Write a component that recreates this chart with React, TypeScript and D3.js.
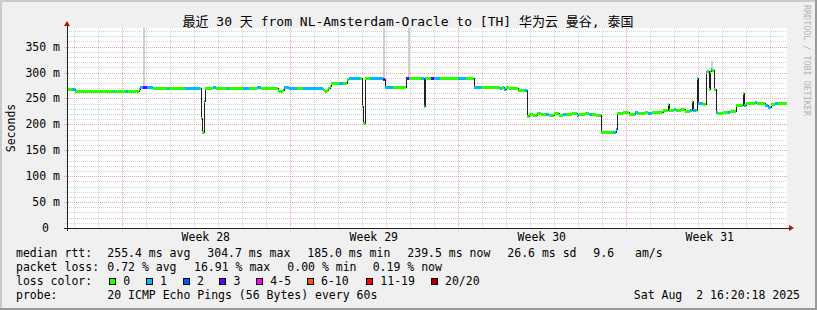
import React from 'react';
import * as d3 from 'd3';

// ---------- data ----------
// median RTT series as step segments: start hour (from window start), median ms, lost pings (of 20)
const segStartHour = [
  0, 5, 8, 47, 48, 59, 61, 72, 73, 76, 80, 86, 100, 102, 118, 133, 134, 135, 137, 138,
  146, 149, 160, 162, 176, 182, 190, 194, 211, 212, 216, 217, 222, 230, 236, 248, 256, 257, 258, 260,
  261, 263, 264, 272, 276, 280, 282, 293, 295, 296, 298, 303, 316, 318, 326, 339, 342, 354, 357, 358,
  359, 364, 367, 373, 391, 399, 407, 415, 433, 435, 437, 439, 442, 451, 458, 460, 462, 466, 470, 474,
  479, 482, 487, 492, 496, 499, 505, 510, 512, 518, 522, 525, 529, 534, 546, 549, 550, 556, 562, 568,
  571, 578, 581, 585, 592, 596, 601, 602, 607, 609, 614, 618, 623, 625, 626, 629, 630, 631, 636, 639,
  640, 642, 643, 644, 645, 647, 649, 651, 656, 661, 663, 669, 676, 677, 679, 688, 690, 698, 701, 704,
  708, 711, 716,
];
const segMedianMs = [
  267, 267, 264, 264, 264, 264, 264, 267, 271, 272, 271, 270, 270, 270, 270, 270, 212, 185, 244, 270,
  271, 270, 270, 270, 270, 270, 271, 270, 266, 263, 266, 271, 270, 270, 270, 270, 268, 265, 263, 266,
  270, 274, 278, 278, 278, 287, 288, 288, 235, 201, 288, 288, 286, 272, 272, 289, 289, 289, 234, 289,
  289, 289, 289, 288, 288, 288, 272, 271, 269, 272, 267, 271, 270, 265, 265, 215, 220, 218, 221, 219,
  220, 218, 221, 217, 220, 219, 221, 218, 219, 221, 219, 220, 218, 185, 185, 190, 221, 222, 220, 222,
  221, 223, 221, 222, 222, 227, 238, 227, 229, 226, 228, 225, 226, 244, 226, 226, 289, 240, 238, 300,
  302, 268, 303, 305, 304, 267, 222, 221, 223, 222, 224, 236, 259, 236, 241, 242, 241, 236, 233, 238,
  240, 241, 239.5,
];
const segLoss = [
  0, 1, 0, 1, 0, 1, 0, 0, 1, 3, 1, 0, 1, 0, 1, 0, 0, 0, 1, 0,
  1, 0, 1, 0, 1, 0, 1, 0, 0, 0, 0, 1, 1, 0, 1, 1, 0, 0, 0, 0,
  0, 0, 0, 1, 0, 0, 1, 0, 0, 0, 0, 1, 3, 1, 0, 3, 0, 1, 1, 1,
  0, 3, 1, 0, 1, 0, 1, 0, 1, 0, 1, 0, 0, 0, 1, 0, 0, 0, 0, 0,
  1, 0, 0, 0, 1, 0, 0, 1, 0, 0, 1, 0, 0, 0, 1, 1, 0, 0, 0, 1,
  0, 0, 1, 0, 0, 0, 0, 0, 1, 0, 0, 0, 1, 0, 1, 0, 1, 1, 0, 1,
  0, 0, 0, 1, 0, 0, 1, 0, 0, 1, 0, 0, 0, 1, 0, 1, 0, 1, 1, 0,
  1, 0, 0,
];
// tall smoke (ping spread) columns
const smokeHour = [76, 316, 341, 644];
const smokeTopMs = [400, 400, 400, 322];

const windowHours = 720;
const firstMidnightHour = 6.8;
const firstWeekStartHour = 54.8;
const weekLabels = ['Week 28', 'Week 29', 'Week 30', 'Week 31'];

const yMaxMs = 386;
const yTickValues = [0, 50, 100, 150, 200, 250, 300, 350];
const yTickLabels = ['0', '50 m', '100 m', '150 m', '200 m', '250 m', '300 m', '350 m'];

const lossLabels = ['0', '1', '2', '3', '4-5', '6-10', '11-19', '20/20'];
const lossUpper = [0, 1, 2, 3, 5, 10, 19, 20];
const lossColors = ['#26ff00', '#00b8ff', '#0059ff', '#5e00ff', '#ff00ff', '#ff5500', '#ff0000', '#a10000'];

const titleText = '最近 30 天 from NL-Amsterdam-Oracle to [TH] 华为云 曼谷, 泰国';
const rttStats = ['255.4 ms avg', '304.7 ms max', '185.0 ms min', '239.5 ms now', '26.6 ms sd', '9.6', 'am/s'];
const lossStats = ['0.72 % avg', '16.91 % max', '0.00 % min', '0.19 % now'];
const probeText = '20 ICMP Echo Pings (56 Bytes) every 60s';
const dateText = 'Sat Aug  2 16:20:18 2025';

// ---------- layout ----------
const W = 817;
const H = 310;
const PL = 67;
const PR = 787;
const PT = 28;
const PB = 228;
const rttX = [107.3, 207.3, 307.3, 407.3, 507.3, 593.3, 635];
const lossX = [107.3, 194, 287.3, 372.7];
const boxX = [109, 145.7, 182.7, 219.3, 256, 306.7, 366, 430.7];
const MONO = "'DejaVu Sans Mono', monospace";

function lossColor(l: number) {
  const i = lossUpper.findIndex((u) => l <= u);
  return lossColors[i < 0 ? lossColors.length - 1 : i];
}

export default function App() {
  const x = d3.scaleLinear().domain([0, windowHours]).range([PL, PR]);
  const y = d3.scaleLinear().domain([0, yMaxMs]).range([PB, PT]);

  const pts: [number, number][] = segStartHour.map((h, i) => [h, segMedianMs[i]]);
  pts.push([windowHours, segMedianMs[segMedianMs.length - 1]]);
  const medLine = d3
    .line<[number, number]>()
    .x((d) => x(d[0]))
    .y((d) => y(d[1]))
    .curve(d3.curveStepAfter)(pts);

  const minorH = d3.range(10, yMaxMs, 10).filter((v) => v % 50 !== 0);
  const majorH = d3.range(50, yMaxMs, 50);
  const midnights = d3.range(firstMidnightHour, windowHours, 24);
  const weekStarts = d3.range(firstWeekStartHour, windowHours, 168);
  const minorV = midnights.filter((h) => !weekStarts.some((w) => Math.abs(w - h) < 0.01));

  const minorColor = '#d2d2d2';
  const majorColor = '#e8a4a4';
  const ps = (v: number) => Math.round(v) + 0.5;

  return (
    <div style={{ position: 'absolute', left: 0, top: 0 }}>
      <svg width={W} height={H} style={{ display: 'block' }} fontFamily={MONO}>
        <rect x={0} y={0} width={W} height={H} fill="#f0f0f0" />
        <rect x={0} y={0} width={W} height={2} fill="#cbcbcb" />
        <rect x={0} y={0} width={2} height={H} fill="#cbcbcb" />
        <rect x={0} y={H - 2} width={W} height={2} fill="#999999" />
        <rect x={W - 2} y={0} width={2} height={H} fill="#999999" />
        <rect x={PL} y={PT} width={PR - PL} height={PB - PT} fill="#ffffff" />

        {/* grid */}
        <g strokeWidth={1}>
          {minorH.map((v) => (
            <line key={'mh' + v} x1={PL - 2} x2={PR} y1={ps(y(v))} y2={ps(y(v))} stroke={minorColor} strokeDasharray="1,1" />
          ))}
          {minorV.map((h) => (
            <line key={'mv' + h} x1={ps(x(h))} x2={ps(x(h))} y1={PT} y2={PB + 2} stroke={minorColor} strokeDasharray="1,1" />
          ))}
          {majorH.map((v) => (
            <line key={'Mh' + v} x1={PL - 3} x2={PR} y1={ps(y(v))} y2={ps(y(v))} stroke={majorColor} strokeDasharray="1,1" />
          ))}
          {weekStarts.map((h) => (
            <line key={'Mv' + h} x1={ps(x(h))} x2={ps(x(h))} y1={PT} y2={PB + 3} stroke={majorColor} strokeDasharray="1,1" />
          ))}
        </g>

        {/* smoke */}
        <g shapeRendering="crispEdges">
          {smokeHour.map((h, i) => {
            const seg = d3.bisectRight(segStartHour, h) - 1;
            const top = Math.max(y(smokeTopMs[i]), PT);
            return <rect key={'s' + i} x={x(h)} y={top} width={x(h + 2) - x(h)} height={y(segMedianMs[seg]) - top} fill="#cfcfcf" />;
          })}
        </g>

        {/* median line */}
        <path d={medLine || ''} fill="none" stroke="#202020" strokeWidth={1} shapeRendering="crispEdges" />
        <g shapeRendering="crispEdges">
          {segStartHour.map((h, i) => {
            const e = i + 1 < segStartHour.length ? segStartHour[i + 1] : windowHours;
            return (
              <rect key={'b' + i} x={x(h)} width={x(e) - x(h)} y={y(segMedianMs[i]) - 1.5} height={3} fill={lossColor(segLoss[i])} />
            );
          })}
        </g>

        {/* axes */}
        <g shapeRendering="crispEdges">
          <line x1={PL - 3} x2={PR + 3} y1={PB} y2={PB} stroke="#202020" />
          <line x1={PL} x2={PL} y1={PB + 3} y2={PT - 2} stroke="#202020" />
        </g>
        <path d={`M${PR + 2},${PB - 3} L${PR + 7},${PB} L${PR + 2},${PB + 3} Z`} fill="#a01818" />
        <path d={`M${PL - 3},${PT - 2} L${PL},${PT - 7} L${PL + 3},${PT - 2} Z`} fill="#a01818" />

        {/* y labels */}
        <g fontSize={11.5} fill="#000">
          {yTickValues.map((v, i) => (
            <text key={'yl' + v} x={v === 0 ? 49 : 60} y={y(v) + 4} textAnchor="end">
              {yTickLabels[i]}
            </text>
          ))}
          {weekLabels.map((w, i) => (
            <text key={w} x={x(weekStarts[i] + 84)} y={241} textAnchor="middle">
              {w}
            </text>
          ))}
          <text transform={`translate(14.5, ${(PT + PB) / 2}) rotate(-90)`} textAnchor="middle">
            Seconds
          </text>
        </g>

        {/* title */}
        <text x={408} y={26} textAnchor="middle" fontSize={13} fontFamily={"'DejaVu Sans Mono', 'Noto Sans CJK SC', monospace"} xmlSpace="preserve">
          {titleText}
        </text>

        {/* watermark */}
        <text transform="translate(803.5, 5) rotate(90)" fontSize={8.4} fill="#b4b4b4">
          RRDTOOL / TOBI OETIKER
        </text>

        {/* legend */}
        <g fontSize={11.5} fill="#000">
          <text x={16} y={257}>median rtt:</text>
          {rttStats.map((s, i) => (
            <text key={'r' + i} x={rttX[i]} y={257} xmlSpace="preserve">{s}</text>
          ))}
          <text x={16} y={271}>packet loss:</text>
          {lossStats.map((s, i) => (
            <text key={'l' + i} x={lossX[i]} y={271} xmlSpace="preserve">{s}</text>
          ))}
          <text x={16} y={285}>loss color:</text>
          {lossLabels.map((s, i) => (
            <g key={'c' + i}>
              <rect x={boxX[i] + 0.5} y={278.5} width={6} height={6} fill={lossColors[i]} stroke="#000" strokeWidth={1} shapeRendering="crispEdges" />
              <text x={boxX[i] + 14.3} y={285}>{s}</text>
            </g>
          ))}
          <text x={16} y={299}>probe:</text>
          <text x={107.3} y={299} xmlSpace="preserve">{probeText}</text>
          <text x={800} y={299} textAnchor="end" xmlSpace="preserve">{dateText}</text>
        </g>
      </svg>
    </div>
  );
}
